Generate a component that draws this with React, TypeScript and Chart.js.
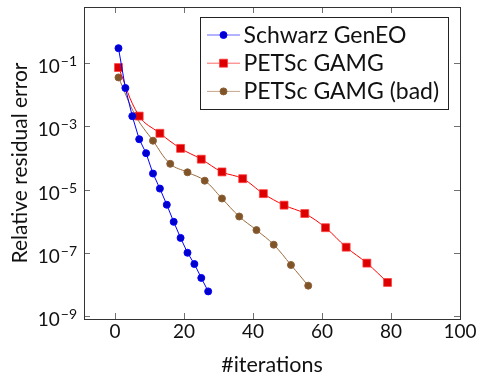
import React, { useEffect, useRef } from "react";
import { Chart, registerables } from "chart.js";

Chart.register(...registerables);

// ---- data ----
const seriesNames = ["Schwarz GenEO", "PETSc GAMG", "PETSc GAMG (bad)"];

const schwarzIters = [1, 3, 5, 7, 9, 11, 13, 15, 17, 19, 21, 23, 25, 27];
const schwarzErr = [2.95e-1, 1.62e-2, 2.09e-3, 3.9e-4, 1.41e-4, 3.2e-5, 1.07e-5, 3.3e-6, 9.5e-7, 2.95e-7, 1.0e-7, 4.4e-8, 1.6e-8, 6.0e-9];

const gamgIters = [1, 7, 13, 19, 25, 31, 37, 43, 49, 55, 61, 67, 73, 79];
const gamgErr = [7.2e-2, 2.1e-3, 6.0e-4, 2.0e-4, 9.1e-5, 3.6e-5, 2.2e-5, 7.4e-6, 3.2e-6, 1.74e-6, 6.2e-7, 1.5e-7, 4.7e-8, 1.15e-8];

const gamgBadIters = [1, 6, 11, 16, 21, 26, 31, 36, 41, 46, 51, 56];
const gamgBadErr = [3.5e-2, 2.1e-3, 3.5e-4, 6.5e-5, 3.5e-5, 1.9e-5, 5.2e-6, 1.4e-6, 5.2e-7, 1.8e-7, 4.1e-8, 9.1e-9];

const xTicks = [0, 20, 40, 60, 80, 100];
const yTickExponents = [-1, -3, -5, -7, -9];
const xTitle = "#iterations";
const yTitle = "Relative residual error";

const X_MIN = -9;
const X_MAX = 100;
const Y_MIN = Math.pow(10, -9.095);
const Y_MAX = Math.pow(10, 0.772);

const FONT = "Lato, 'DejaVu Sans', sans-serif";

const styles = [
  { line: "#0000ff", fill: "#0000cc", border: "#0000ff", shape: "circle", radius: 3.5, tension: 0 },
  { line: "#ff0000", fill: "#dd0000", border: "rgba(255,60,60,0.75)", shape: "rect", radius: 5.6, tension: 0.4 },
  { line: "#9c6b3c", fill: "#7f5428", border: "#8e6035", shape: "circle", radius: 3.5, tension: 0.4 },
];

function toPoints(xs: number[], ys: number[]) {
  return xs.map((x, i) => ({ x, y: ys[i] }));
}

const decorPlugin = {
  id: "decor",
  afterDraw(chart: any) {
    const { ctx, chartArea: a, scales } = chart;
    const xs = scales.x;
    const ys = scales.y;
    ctx.save();

    // inward tick marks
    ctx.strokeStyle = "#707070";
    ctx.lineWidth = 1;
    ctx.beginPath();
    xTicks.forEach((v) => {
      const px = Math.round(xs.getPixelForValue(v)) + 0.5;
      ctx.moveTo(px, a.bottom);
      ctx.lineTo(px, a.bottom - 6);
      ctx.moveTo(px, a.top);
      ctx.lineTo(px, a.top + 6);
    });
    yTickExponents.forEach((e) => {
      const py = Math.round(ys.getPixelForValue(Math.pow(10, e))) + 0.5;
      ctx.moveTo(a.left, py);
      ctx.lineTo(a.left + 6, py);
      ctx.moveTo(a.right, py);
      ctx.lineTo(a.right - 6, py);
    });
    ctx.stroke();

    // frame
    ctx.strokeStyle = "#333333";
    ctx.strokeRect(Math.round(a.left) + 0.5, Math.round(a.top) + 0.5, Math.round(a.right - a.left), Math.round(a.bottom - a.top));

    ctx.fillStyle = "#111111";
    // x tick labels
    ctx.font = `19px ${FONT}`;
    ctx.textAlign = "center";
    ctx.textBaseline = "alphabetic";
    xTicks.forEach((v) => {
      ctx.fillText(String(v), xs.getPixelForValue(v), a.bottom + 19);
    });

    // y tick labels 10^e
    yTickExponents.forEach((e) => {
      const py = ys.getPixelForValue(Math.pow(10, e));
      const expStr = (e < 0 ? "\u2212" : "") + Math.abs(e);
      ctx.font = `14px ${FONT}`;
      const ew = ctx.measureText(expStr).width;
      ctx.font = `19px ${FONT}`;
      const bw = ctx.measureText("10").width;
      const right = a.left - 7;
      ctx.textAlign = "left";
      ctx.fillText("10", right - ew - bw - 1, py + 10);
      ctx.font = `14px ${FONT}`;
      ctx.fillText(expStr, right - ew, py + 3);
    });

    // axis titles
    ctx.font = `21.5px ${FONT}`;
    ctx.textAlign = "center";
    ctx.fillText(xTitle, (a.left + a.right) / 2, 372);
    ctx.font = `21px ${FONT}`;
    ctx.save();
    ctx.translate(26.5, (a.top + a.bottom) / 2);
    ctx.rotate(-Math.PI / 2);
    ctx.fillText(yTitle, 0, 0);
    ctx.restore();

    // legend
    ctx.font = `23px ${FONT}`;
    const maxW = Math.max(...seriesNames.map((n) => ctx.measureText(n).width));
    const padL = 6.5, lineLen = 33, gap = 3.5, padR = 10;
    const boxW = padL + lineLen + gap + maxW + padR;
    const boxR = Math.round(a.right - 12.5) + 0.5;
    const boxL = Math.round(boxR - boxW) + 0.5;
    const boxT = Math.round(a.top + 9.5) + 0.5;
    const rowH = 28.2;
    const boxH = 92;
    ctx.fillStyle = "#ffffff";
    ctx.fillRect(boxL, boxT, boxR - boxL, boxH);
    ctx.strokeStyle = "#222222";
    ctx.lineWidth = 1;
    ctx.strokeRect(boxL, boxT, boxR - boxL, boxH);
    seriesNames.forEach((name, i) => {
      const st = styles[i];
      const cy = boxT + 17.5 + i * rowH;
      const x0 = boxL + padL;
      ctx.strokeStyle = st.line;
      ctx.lineWidth = 1;
      ctx.globalAlpha = 0.6;
      ctx.beginPath();
      ctx.moveTo(x0, cy);
      ctx.lineTo(x0 + lineLen, cy);
      ctx.stroke();
      ctx.globalAlpha = 1;
      const mx = x0 + lineLen / 2;
      ctx.fillStyle = st.fill;
      ctx.strokeStyle = st.border;
      ctx.beginPath();
      if (st.shape === "rect") {
        ctx.rect(mx - 4, cy - 4, 8, 8);
      } else {
        ctx.arc(mx, cy, 3.5, 0, Math.PI * 2);
      }
      ctx.fill();
      ctx.stroke();
      ctx.fillStyle = "#111111";
      ctx.textAlign = "left";
      ctx.fillText(name, x0 + lineLen + gap, cy + 8);
    });

    ctx.restore();
  },
};

export default function App() {
  const canvasRef = useRef<HTMLCanvasElement | null>(null);

  useEffect(() => {
    const canvas = canvasRef.current;
    if (!canvas) return;
    const seriesData = [
      toPoints(schwarzIters, schwarzErr),
      toPoints(gamgIters, gamgErr),
      toPoints(gamgBadIters, gamgBadErr),
    ];
    const chart = new Chart(canvas, {
      type: "line",
      data: {
        datasets: seriesNames.map((name, i) => ({
          label: name,
          data: seriesData[i],
          borderColor: styles[i].line,
          backgroundColor: styles[i].fill,
          pointBackgroundColor: styles[i].fill,
          pointBorderColor: styles[i].border,
          pointBorderWidth: 1,
          pointStyle: styles[i].shape as any,
          pointRadius: styles[i].radius,
          borderWidth: 1,
          tension: styles[i].tension,
          fill: false,
        })),
      },
      options: {
        responsive: false,
        animation: false,
        maintainAspectRatio: false,
        layout: { padding: { left: 84, right: 19, top: 7, bottom: 57 } },
        plugins: {
          legend: { display: false },
          tooltip: { enabled: false },
        },
        scales: {
          x: { type: "linear", min: X_MIN, max: X_MAX, display: false },
          y: { type: "logarithmic", min: Y_MIN, max: Y_MAX, display: false },
        },
      },
      plugins: [decorPlugin],
    });
    return () => chart.destroy();
  }, []);

  return (
    <div style={{ position: "fixed", left: 0, top: 0, width: 479, height: 376, background: "#fff" }}>
      <canvas ref={canvasRef} width={479} height={376} style={{ display: "block" }} />
    </div>
  );
}
